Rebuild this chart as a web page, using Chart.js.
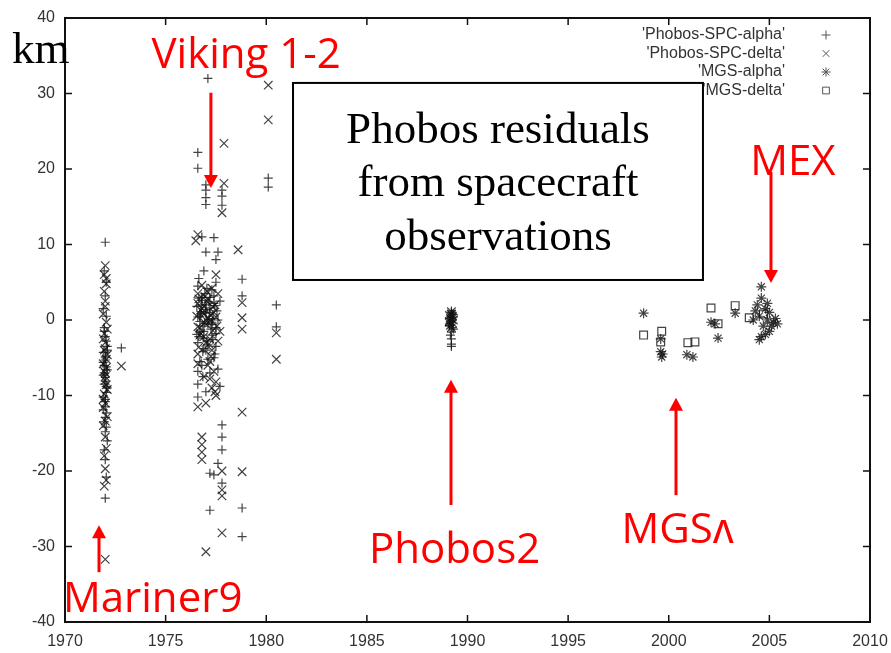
<!DOCTYPE html>
<html>
<head>
<meta charset="utf-8">
<script src="https://cdn.jsdelivr.net/npm/chart.js@4/dist/chart.umd.min.js"></script>
<style>
  html, body { margin: 0; padding: 0; background: #fff; }
  #wrap { width: 891px; height: 653px; }
</style>
</head>
<body>
<div id="wrap"><canvas id="residuals"></canvas></div>
<script>
// axis ticks
var yearTicks = [1970, 1975, 1980, 1985, 1990, 1995, 2000, 2005, 2010];
var kmTicks = [-40, -30, -20, -10, 0, 10, 20, 30, 40];

// 'Phobos-SPC-alpha' (+)
var spcAlphaYear = [
  1972.0, 1971.95, 1972.05, 1972.0, 1971.9, 1972.05, 1971.95, 1972.0, 1972.1, 1971.9, 1972.0, 1972.05, 1971.95,
  1972.0, 1972.1, 1971.9, 1972.0, 1972.05, 1971.95, 1972.0, 1972.1, 1971.95, 1972.0, 1972.05, 1972.0, 1972.8,
  1971.95, 1972.05, 1972.0, 1971.9, 1972.1, 1972.0, 1971.95, 1972.05, 1972.0, 1971.9, 1972.0, 1972.05,
  1972.0, 1971.9, 1972.05, 1972.0, 1971.95, 1972.1,
  1977.1, 1976.6, 1976.6, 1977.0, 1977.0, 1977.0, 1977.0, 1977.8, 1977.8, 1977.8, 1976.8, 1977.4, 1977.0, 1977.6,
  1977.5, 1978.8, 1978.8, 1976.6, 1976.8, 1977.0, 1977.2, 1976.7, 1977.1, 1976.9, 1977.3, 1976.6, 1977.0, 1977.4,
  1976.8, 1977.2, 1976.6, 1977.0, 1977.5, 1977.6, 1977.7, 1977.5, 1977.6, 1977.7, 1976.6, 1976.9, 1977.3, 1976.7,
  1976.55, 1976.65, 1976.75, 1976.85, 1976.95, 1977.05, 1977.15, 1977.25, 1977.35, 1977.45, 1977.55, 1976.6,
  1976.7, 1976.8, 1976.9, 1977.0, 1977.1, 1977.2, 1977.3, 1977.4, 1977.5, 1976.65, 1976.85, 1977.05,
  1976.6, 1976.7, 1976.8, 1976.9, 1977.0, 1977.1, 1977.2, 1977.3, 1977.4, 1977.5, 1976.55, 1976.75,
  1976.95, 1977.15, 1977.35, 1977.45, 1976.65, 1976.85,
  1977.8, 1977.8, 1977.8, 1977.2, 1977.8, 1977.2, 1978.8, 1978.8, 1977.6, 1977.4,
  1980.1, 1980.1, 1980.5, 1980.5,
  1989.2, 1989.15, 1989.25, 1989.2, 1989.1, 1989.3, 1989.2, 1989.15, 1989.2, 1989.2, 1989.2, 1989.25, 1989.1,
  1989.1, 1989.2, 1989.3, 1989.15, 1989.25, 1989.1, 1989.3, 1989.2
];
var spcAlphaKm = [
  10.3, 6.5, 5.0, 3.2, 1.5, 0.5, -1.0, -2.2, -3.5, -4.3, -5.0, -6.2, -7.0,
  -8.1, -9.0, -10.2, -11.5, -12.3, -13.5, -14.8, -16.0, -17.2, -18.5, -20.8, -23.6, -3.7,
  -1.5, -2.8, -4.8, -5.6, -6.6, -7.6, -8.5, -9.6, -10.8, -11.9, -12.9, -14.2,
  -5.3, -7.3, -8.8, -10.5, -6.0, -4.0,
  32.0, 22.2, 20.1, 17.9, 17.2, 16.2, 15.3, 17.2, 16.4, 15.2, 11.0, 10.9, 9.0, 9.0,
  8.0, 5.4, 3.2, 4.5, 3.0, 2.0, 1.0, 0.5, -0.5, -1.5, -2.0, -3.0, -4.0, -5.0,
  -6.0, -7.0, -8.5, -9.5, -3.5, 0.0, 2.5, 5.0, -6.5, -8.8, -10.2, 6.5, 4.0, -5.5,
  1.8, -2.2, 0.8, -0.8, 3.5, -2.8, 2.4, -1.2, 0.2, -4.5, 1.2, -6.8,
  -0.2, 2.0, -3.8, 1.4, -5.2, 3.0, -0.6, 2.2, -1.8, 5.5, -7.5, 4.2,
  0.4, -1.6, 2.6, -2.4, 0.9, -3.3, 1.6, -0.3, 3.2, -1.0, -1.9, 1.1,
  -0.4, 0.1, -2.6, 1.9, 2.9, -4.2,
  -13.9, -15.5, -17.2, -20.3, -21.6, -25.2, -24.9, -28.7, -19.0, -20.5,
  18.8, 17.6, 2.0, -0.9,
  1.0, 0.5, 0.0, -0.3, -0.8, -1.2, -1.6, -2.0, -2.5, -3.2, -3.5, 0.8, -0.5,
  0.2, 1.2, 0.4, -0.1, -1.0, -0.7, 0.7, 0.3
];

// 'Phobos-SPC-delta' (x)
var spcDeltaYear = [
  1972.0, 1971.95, 1972.05, 1972.0, 1971.9, 1972.05, 1971.95, 1972.0, 1972.1, 1971.9, 1972.0, 1972.05,
  1971.95, 1972.0, 1972.1, 1971.9, 1972.0, 1972.05, 1971.95, 1972.0, 1972.05, 1971.95, 1972.0, 1972.8,
  1972.05, 1971.95, 1972.0, 1972.1, 1971.9, 1972.0, 1972.05, 1971.95, 1972.0, 1972.1, 1971.9, 1972.0,
  1971.95, 1972.05, 1972.0, 1971.9,
  1977.9, 1977.9, 1976.6, 1976.5, 1978.6, 1978.8, 1978.8, 1978.8, 1978.8, 1977.8,
  1976.6, 1976.8, 1976.8, 1976.8, 1976.8, 1978.8, 1977.8, 1977.8, 1977.8, 1977.0, 1977.8,
  1976.6, 1976.8, 1977.0, 1976.7, 1977.2, 1976.6, 1977.1, 1976.9, 1977.3, 1977.5, 1977.0, 1977.4,
  1977.6, 1977.7, 1977.5, 1977.3, 1977.1, 1976.9, 1977.6,
  1976.55, 1976.65, 1976.75, 1976.85, 1976.95, 1977.05, 1977.15, 1977.25, 1977.35, 1977.45, 1977.55, 1976.6,
  1976.7, 1976.8, 1976.9, 1977.0, 1977.1, 1977.2, 1977.3, 1977.4, 1977.5, 1976.6, 1977.2, 1977.45,
  1976.6, 1976.75, 1976.9, 1977.05, 1977.2, 1977.35, 1977.5, 1976.65, 1976.95, 1977.25,
  1980.1, 1980.1, 1980.5, 1980.5,
  1989.2, 1989.15, 1989.25, 1989.2, 1989.1, 1989.3, 1989.2, 1989.15, 1989.25, 1989.1
];
var spcDeltaKm = [
  7.2, 6.0, 4.8, 2.5, 0.8, -0.3, -1.8, -3.0, -4.6, -5.8, -7.5, -8.6,
  -9.8, -11.0, -12.8, -14.0, -15.5, -17.0, -18.0, -19.7, -21.2, -22.0, -31.7, -6.1,
  5.5, 3.8, 1.8, -1.2, -2.5, -3.8, -5.2, -6.8, -8.0, -9.2, -10.5, -13.4,
  -4.0, -6.3, -7.0, -11.6,
  23.4, 18.1, 11.3, 10.5, 9.3, 2.3, 0.3, -1.2, -12.2, 14.2,
  -11.5, -15.5, -16.5, -17.5, -18.5, -20.1, -22.5, -23.3, -28.2, -30.7, -20.0,
  3.5, 1.5, 0.0, -1.0, -2.5, -4.5, -6.0, -7.5, -9.0, -10.0, -11.0, 1.0,
  3.5, -1.5, 6.0, -4.0, 2.8, 0.8, -2.8,
  0.5, 2.8, -1.8, 1.0, -0.4, 3.8, -3.2, 0.6, -1.4, 2.0, -0.8, -5.8,
  -2.0, 4.6, 1.8, -3.0, 0.3, -5.5, 4.2, -6.8, -8.2, 2.2, -7.8, -9.5,
  -0.9, 1.3, -2.2, 2.5, -0.1, 1.7, 0.4, -3.6, 3.1, -4.8,
  31.1, 26.5, -1.7, -5.2,
  0.8, 0.2, -0.4, -1.0, 0.6, 0.0, 1.1, -0.7, 0.5, -0.2
];

// 'MGS-alpha' (*)
var mgsAlphaYear = [
  1998.75, 1999.6, 1999.6, 1999.65, 1999.7, 2000.9, 2001.2, 2002.1, 2002.3, 2002.45, 2003.3,
  2004.6, 2004.6, 2004.4, 2004.8, 2005.0, 2004.5, 2004.9, 2005.2, 2004.7, 2005.0, 2004.6, 2004.5,
  2005.3, 2004.3, 2005.1, 2004.8, 2005.4, 2004.2, 2004.9
];
var mgsAlphaKm = [
  0.9, -2.5, -4.2, -4.9, -4.5, -4.6, -4.9, -0.3, -0.5, -2.4, 0.9,
  4.4, 2.9, 2.0, 1.5, 1.0, 0.5, 0.0, -0.3, -0.8, -1.5, -2.2, -2.6,
  0.2, 1.2, -0.8, -1.9, -0.5, 0.0, 2.2
];

// 'MGS-delta' (square)
var mgsDeltaYear = [1998.75, 1999.65, 1999.6, 2000.95, 2001.3, 2002.1, 2002.45, 2003.3, 2004.0, 2004.7];
var mgsDeltaKm = [-2.0, -1.5, -2.9, -3.0, -2.9, 1.6, -0.5, 1.9, 0.3, 0.8];

function pairs(xs, ys) {
  return xs.map(function (x, i) { return { x: x, y: ys[i] }; });
}

var markColor = 'rgba(20,20,20,0.8)';

var chartdata = {
  datasets: [
    { label: "'Phobos-SPC-alpha'", data: pairs(spcAlphaYear, spcAlphaKm), pointStyle: 'cross', pointRadius: 4.5 },
    { label: "'Phobos-SPC-delta'", data: pairs(spcDeltaYear, spcDeltaKm), pointStyle: 'crossRot', pointRadius: 6 },
    { label: "'MGS-alpha'", data: pairs(mgsAlphaYear, mgsAlphaKm), pointStyle: 'star', pointRadius: 5 },
    { label: "'MGS-delta'", data: pairs(mgsDeltaYear, mgsDeltaKm), pointStyle: 'rect', pointRadius: 5.5 }
  ]
};
chartdata.datasets.forEach(function (ds) {
  ds.borderColor = markColor;
  ds.backgroundColor = 'rgba(0,0,0,0)';
  ds.pointBorderWidth = 1.2;
  ds.pointHoverRadius = ds.pointRadius;
});

// red labels with arrows, placed in data units
var notes = [
  { text: 'Viking 1-2', x: 1974.3, y: 33.4, ax: 1977.25, from: 30.1, to: 17.5 },
  { text: 'MEX', x: 2004.05, y: 19.2, ax: 2005.08, from: 19.6, to: 4.9 },
  { text: 'Phobos2', x: 1985.1, y: -32.2, ax: 1989.18, from: -24.5, to: -7.9 },
  { text: 'MGSʌ', x: 1997.65, y: -29.5, ax: 2000.36, from: -23.2, to: -10.3 },
  { text: 'Mariner9', x: 1969.9, y: -38.7, ax: 1971.69, from: -33.4, to: -27.2 }
];
var boxLines = ['Phobos residuals', 'from spacecraft', 'observations'];

function drawMark(ctx, style, x, y, r) {
  ctx.beginPath();
  if (style === 'cross' || style === 'star') {
    ctx.moveTo(x - r, y); ctx.lineTo(x + r, y);
    ctx.moveTo(x, y - r); ctx.lineTo(x, y + r);
  }
  if (style === 'crossRot' || style === 'star') {
    var d = r * 0.75;
    ctx.moveTo(x - d, y - d); ctx.lineTo(x + d, y + d);
    ctx.moveTo(x - d, y + d); ctx.lineTo(x + d, y - d);
  }
  if (style === 'rect') {
    ctx.rect(x - r * 0.75, y - r * 0.75, r * 1.5, r * 1.5);
  }
  ctx.stroke();
}

var decor = {
  id: 'decor',
  afterDatasetsDraw: function (chart) {
    var ctx = chart.ctx, a = chart.chartArea;
    var xs = chart.scales.x, ys = chart.scales.y;
    ctx.save();

    // frame and inward ticks on all four sides
    ctx.strokeStyle = '#111';
    ctx.lineWidth = 2;
    ctx.strokeRect(a.left, a.top, a.right - a.left, a.bottom - a.top);
    ctx.lineWidth = 1.5;
    ctx.beginPath();
    yearTicks.forEach(function (v) {
      var p = xs.getPixelForValue(v);
      ctx.moveTo(p, a.bottom); ctx.lineTo(p, a.bottom - 7);
      ctx.moveTo(p, a.top); ctx.lineTo(p, a.top + 7);
    });
    kmTicks.forEach(function (v) {
      var p = ys.getPixelForValue(v);
      ctx.moveTo(a.left, p); ctx.lineTo(a.left + 7, p);
      ctx.moveTo(a.right, p); ctx.lineTo(a.right - 7, p);
    });
    ctx.stroke();

    // gnuplot style key, top right
    ctx.font = '16px "Liberation Sans", Arial, sans-serif';
    ctx.textAlign = 'right';
    ctx.textBaseline = 'middle';
    chart.data.datasets.forEach(function (ds, i) {
      var yy = a.top + 17 + i * 18.5;
      ctx.fillStyle = '#333';
      ctx.fillText(ds.label, a.right - 85, yy);
      ctx.strokeStyle = '#555';
      ctx.lineWidth = 1;
      drawMark(ctx, ds.pointStyle, a.right - 44, yy, 4.5);
    });

    // "km" unit
    ctx.fillStyle = '#000';
    ctx.textAlign = 'left';
    ctx.textBaseline = 'alphabetic';
    ctx.font = '45px "Liberation Serif", "Times New Roman", serif';
    ctx.fillText('km', xs.getPixelForValue(1967.37), ys.getPixelForValue(34.0));

    // title box
    var bl = xs.getPixelForValue(1981.33), br = xs.getPixelForValue(2001.7);
    var bt = ys.getPixelForValue(31.4), bb = ys.getPixelForValue(5.3);
    ctx.fillStyle = '#fff';
    ctx.fillRect(bl, bt, br - bl, bb - bt);
    ctx.strokeStyle = '#000';
    ctx.lineWidth = 2;
    ctx.strokeRect(bl, bt, br - bl, bb - bt);
    ctx.fillStyle = '#000';
    ctx.textAlign = 'center';
    var cx = (bl + br) / 2;
    [23.4, 16.4, 9.3].forEach(function (v, i) {
      ctx.fillText(boxLines[i], cx, ys.getPixelForValue(v));
    });

    // red annotations
    ctx.fillStyle = '#ff0000';
    ctx.strokeStyle = '#ff0000';
    ctx.textAlign = 'left';
    ctx.font = '42px "Open Sans", sans-serif';
    notes.forEach(function (n) {
      ctx.fillText(n.text, xs.getPixelForValue(n.x), ys.getPixelForValue(n.y));
      var px = xs.getPixelForValue(n.ax);
      var y0 = ys.getPixelForValue(n.from), y1 = ys.getPixelForValue(n.to);
      var dir = y1 > y0 ? 1 : -1;
      ctx.lineWidth = 3;
      ctx.beginPath();
      ctx.moveTo(px, y0);
      ctx.lineTo(px, y1 - dir * 12);
      ctx.stroke();
      ctx.beginPath();
      ctx.moveTo(px - 7, y1 - dir * 13);
      ctx.lineTo(px + 7, y1 - dir * 13);
      ctx.lineTo(px, y1);
      ctx.closePath();
      ctx.fill();
    });
    ctx.restore();
  }
};

var ctx = document.getElementById('residuals');
var scatter = new Chart(ctx, {
  type: 'scatter',
  data: chartdata,
  plugins: [decor],
  options: {
    responsive: true,
    maintainAspectRatio: false,
    animation: false,
    layout: { padding: { top: 18, right: 21, left: 0, bottom: 0 } },
    plugins: { legend: { display: false }, tooltip: { enabled: false } },
    scales: {
      x: {
        type: 'linear', min: 1970, max: 2010,
        afterFit: function (s) { s.height = 31; },
        afterBuildTicks: function (s) { s.ticks = yearTicks.map(function (v) { return { value: v }; }); },
        grid: { display: false },
        border: { display: false },
        ticks: {
          padding: 2, color: '#333', maxRotation: 0,
          font: { family: '"Liberation Sans", Arial, sans-serif', size: 16 },
          callback: function (v) { return String(v); }
        }
      },
      y: {
        type: 'linear', min: -40, max: 40,
        afterFit: function (s) { s.width = 65; },
        afterBuildTicks: function (s) { s.ticks = kmTicks.map(function (v) { return { value: v }; }); },
        grid: { display: false },
        border: { display: false },
        ticks: {
          padding: 2, color: '#333',
          font: { family: '"Liberation Sans", Arial, sans-serif', size: 16 },
          callback: function (v) { return String(v); }
        }
      }
    }
  }
});
</script>
</body>
</html>
